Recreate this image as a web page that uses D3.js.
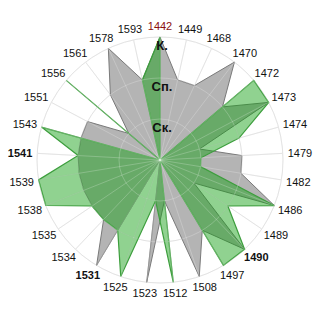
<!DOCTYPE html>
<html>
<head>
<meta charset="utf-8">
<script src="https://cdn.jsdelivr.net/npm/d3@7"></script>
<style>
  html, body { margin: 0; padding: 0; background: #fff; }
  svg { display: block; font-family: "Liberation Sans", Arial, sans-serif; }
</style>
</head>
<body>
<svg id="chart" width="320" height="320"></svg>
<script>
const years = ["1442","1449","1468","1470","1472","1473","1474","1479","1482","1486","1489","1490","1497","1508","1512","1523","1525","1531","1534","1535","1538","1539","1541","1543","1551","1556","1561","1578","1593"];
const grayValues  = [3,2,2,3,2,3,1,2,2,3,1,3,2,3,1,3,0,3,2,2,2,2,2,2,2,1,2,3,2];
const greenValues = [3,0,0,0,3,3,2,1,1,3,2,3,3,0,3,1,3,2,2,2,3,3,2,3,0,3,0,0,2];
const levelLabels = ["Ск.","Сп.","К."];
const levels = [1,2,3];
const boldYears = ["1490","1531","1541"];
const redYears = ["1442"];

const cx = 160, cy = 160, R = 123;
const svg = d3.select("#chart");
const g = svg.append("g").attr("transform", `translate(${cx},${cy})`);

const n = years.length;
const angle = d3.scaleLinear().domain([0, n]).range([0, 2 * Math.PI]);
const r = d3.scaleLinear().domain([0, 3]).range([0, R]);

function drawGrid(sel, stroke, op) {
  const grid = sel.append("g").attr("fill", "none").attr("stroke", stroke).attr("stroke-opacity", op).attr("stroke-width", 1);
  grid.selectAll("circle").data(levels).join("circle").attr("r", d => r(d));
  grid.selectAll("line").data(years).join("line")
    .attr("x1", 0).attr("y1", 0)
    .attr("x2", (d, i) => r(3) * Math.sin(angle(i)))
    .attr("y2", (d, i) => -r(3) * Math.cos(angle(i)));
}
drawGrid(g, "#dcdcdc", 1);

const line = d3.lineRadial()
  .angle((d, i) => angle(i))
  .radius(d => r(d))
  .curve(d3.curveLinearClosed);

g.append("path").datum(grayValues)
  .attr("d", line)
  .attr("fill", "#b4b4b4")
  .attr("stroke", "#7a7a7a")
  .attr("stroke-width", 1)
  .attr("stroke-linejoin", "miter");

g.append("path").datum(greenValues)
  .attr("d", line)
  .attr("fill", "rgb(20,160,20)")
  .attr("fill-opacity", 0.47)
  .attr("stroke", "#3d9e3d")
  .attr("stroke-width", 1.2)
  .attr("stroke-linejoin", "miter");

drawGrid(g, "#ffffff", 0.22);

g.append("g").selectAll("text").data(levels).join("text")
  .attr("x", 2)
  .attr("y", d => -r(d) + 13)
  .attr("text-anchor", "middle")
  .attr("font-size", 13)
  .attr("font-weight", "bold")
  .attr("fill", "#111")
  .text((d, i) => levelLabels[i]);

const labels = g.append("g").selectAll("text").data(years).join("text")
  .attr("text-anchor", "middle")
  .attr("dominant-baseline", "central")
  .attr("font-size", 11)
  .attr("font-weight", d => boldYears.includes(d) ? "bold" : "normal")
  .attr("fill", d => redYears.includes(d) ? "#8b1010" : "#111")
  .text(d => d);

labels.each(function(d, i) {
  const w = this.getComputedTextLength();
  const a = angle(i);
  const s = Math.sin(a), c = Math.cos(a);
  d3.select(this)
    .attr("x", s * 134 + s * w * 0.25)
    .attr("y", -c * 134);
});
</script>
</body>
</html>
